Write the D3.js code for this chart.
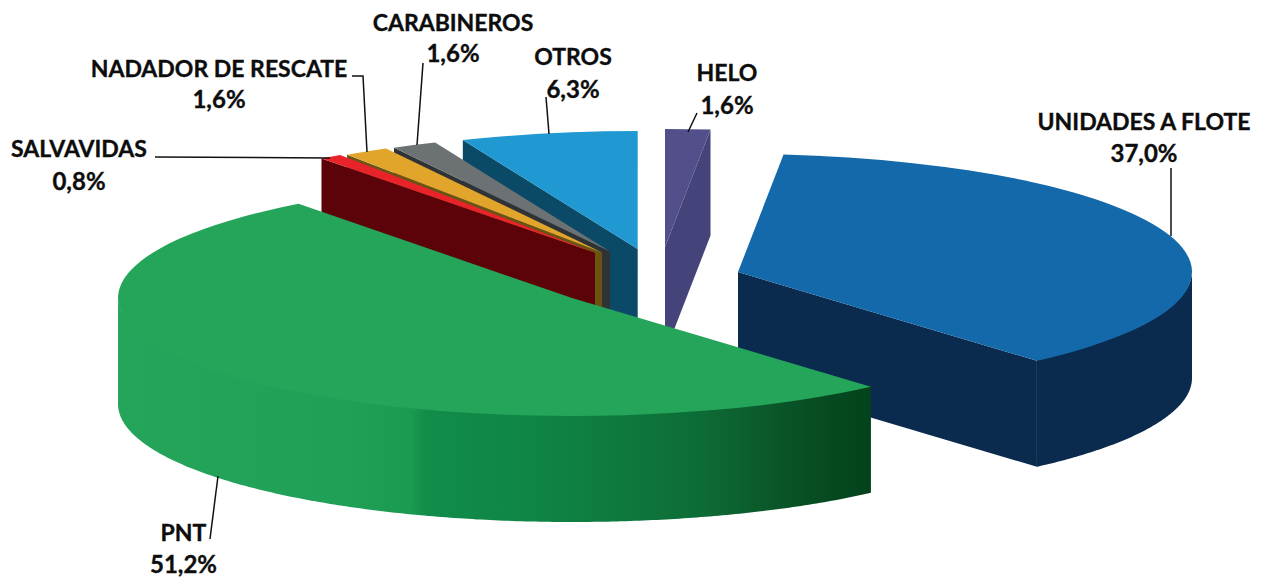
<!DOCTYPE html>
<html>
<head>
<meta charset="utf-8">
<script src="https://cdn.jsdelivr.net/npm/d3@7"></script>
<style>
  html, body { margin: 0; padding: 0; background: #fff; }
  svg { display: block; }
  text { font-family: Lato, "Open Sans", sans-serif; font-weight: 700; fill: #0d0d0d; stroke: #0d0d0d; stroke-width: 0.35px; text-anchor: middle; }
  text.name { font-size: 23px; }
  text.pct { font-size: 24px; }
</style>
</head>
<body>
<svg id="chart" width="1265" height="580"></svg>
<script>
// data, clockwise from 12 o'clock
const categories = ["HELO", "UNIDADES A FLOTE", "PNT", "SALVAVIDAS", "NADADOR DE RESCATE", "CARABINEROS", "OTROS"];
const values = [1.6, 37.0, 51.2, 0.8, 1.6, 1.6, 6.3];
const valueLabels = ["1,6%", "37,0%", "51,2%", "0,8%", "1,6%", "1,6%", "6,3%"];

// colours per slice
const topColors = ["#534f8a", "#1469ab", "#25a55a", "#e8242a", "#e2a52c", "#6c7173", "#2098d1"];
const wallColors = ["#44437a", "#0a2b4e", "url(#pntWall)", "#5c0309", "#6b5314", "#2f3336", "#0a4a66"];

// pie layout
const cx = 650, cy = 278;
const radius = 454, radiusY = 118, depth = 106;
// how far each slice is pulled out of the pie
const explodeX = [15, 88, -78, -55, -48, -40, -12.3];
const explodeY = [-31, -6, 20, -25.3, -25.6, -26.5, -29];

// label centre, baselines, then the leader line
const labelX = [727, 1144, 183.5, 79, 219, 453, 573];
const labelY = [[81, 114], [130, 162], [541, 573], [157, 190], [77, 108], [31, 62], [65, 98]];
const leaders = [
  [[697, 113], [688, 132]],
  [[1171, 168], [1171, 236]],
  [[218, 476], [210, 539]],
  [[155, 157], [330, 158]],
  [[352, 76], [363, 76], [367, 152]],
  [[423, 63], [417, 145]],
  [[546, 97], [549, 134]]
];

const svg = d3.select("#chart");

// gradient along the front wall of PNT
const grad = svg.append("defs").append("linearGradient")
  .attr("id", "pntWall")
  .attr("gradientUnits", "userSpaceOnUse")
  .attr("x1", 117).attr("x2", 871).attr("y1", 0).attr("y2", 0);
[[0, "#25a55a"], [0.3, "#20a057"], [0.39, "#1b9a52"], [0.41, "#118d4a"], [0.55, "#0f8546"],
 [0.66, "#0e7a3e"], [0.78, "#0d6b35"], [0.88, "#0a5429"], [0.96, "#05471f"], [1, "#03431b"]]
  .forEach(d => grad.append("stop").attr("offset", d[0]).attr("stop-color", d[1]));

const pie = d3.pie().sort(null).startAngle(0).endAngle(2 * Math.PI);
const slices = pie(values).map((d, i) => ({
  ...d,
  i: i,
  x: cx + explodeX[i],
  y: cy + explodeY[i]
}));

const sx = d3.scaleLinear().domain([-1, 1]).range([-radius, radius]);
const sy = d3.scaleLinear().domain([-1, 1]).range([-radiusY, radiusY]);
const topArc = d3.arc().innerRadius(0).outerRadius(radius);
const line = d3.line();

function rim(d, a) {
  return [d.x + sx(Math.sin(a)), d.y - sy(Math.cos(a))];
}

// radial wall at angle a
function radialWall(d, a) {
  const p = rim(d, a);
  return line([[d.x, d.y], p, [p[0], p[1] + depth], [d.x, d.y + depth]]) + "Z";
}

// curved wall, only the part facing the viewer
function outerWall(d) {
  const a0 = Math.max(d.startAngle, Math.PI / 2);
  const a1 = Math.min(d.endAngle, 3 * Math.PI / 2);
  if (a1 <= a0) return null;
  const angles = d3.range(a0, a1, 0.01).concat([a1]);
  const upper = angles.map(a => rim(d, a));
  const lower = upper.map(p => [p[0], p[1] + depth]).reverse();
  // tucked 1px under the top face so no white seam shows
  return line(upper.map(p => [p[0], p[1] - 1]).concat(lower)) + "Z";
}

// back slices first
const order = slices.slice().sort((a, b) => a.y - b.y);
const groups = svg.selectAll("g.slice").data(order).join("g").attr("class", "slice");

groups.each(function(d) {
  const g = d3.select(this);
  const color = wallColors[d.i];
  // start wall faces us on the left half, end wall on the right half
  if (d.startAngle > Math.PI) g.append("path").attr("d", radialWall(d, d.startAngle)).attr("fill", color);
  if (d.endAngle < Math.PI) g.append("path").attr("d", radialWall(d, d.endAngle)).attr("fill", color);
  const wall = outerWall(d);
  if (wall) g.append("path").attr("d", wall).attr("fill", color);
  g.append("path")
    .attr("d", topArc(d))
    .attr("transform", "translate(" + d.x + "," + d.y + ") scale(1," + (radiusY / radius) + ")")
    .attr("fill", topColors[d.i]);
});

// leaders
svg.selectAll("path.leader").data(leaders).join("path")
  .attr("class", "leader")
  .attr("d", d => line(d))
  .attr("fill", "none")
  .attr("stroke", "#111")
  .attr("stroke-width", 1.5);

// labels
categories.forEach((name, i) => {
  svg.append("text").attr("class", "name").attr("x", labelX[i]).attr("y", labelY[i][0]).text(name);
  svg.append("text").attr("class", "pct").attr("x", labelX[i]).attr("y", labelY[i][1]).text(valueLabels[i]);
});
</script>
</body>
</html>
